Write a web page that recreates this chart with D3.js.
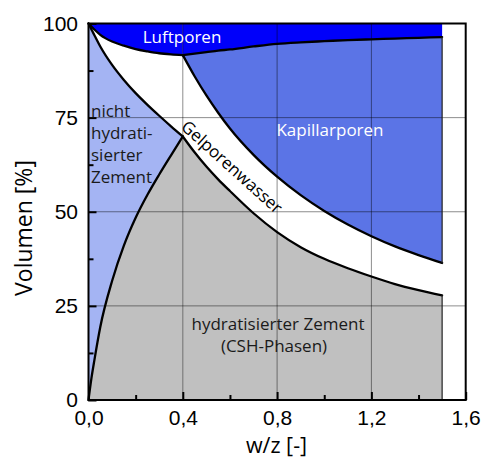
<!DOCTYPE html>
<html>
<head>
<meta charset="utf-8">
<script src="https://cdn.jsdelivr.net/npm/d3@7"></script>
<style>
  html, body { margin: 0; padding: 0; background: #fff; }
  svg { display: block; font-family: "Open Sans", "Noto Sans", sans-serif; }
</style>
</head>
<body>
<svg id="chart" width="482" height="459"></svg>
<script>
// Volume fractions of hardened cement paste (Powers model) versus w/z ratio.
// Left branch: w/z 0 .. 0.4 (incomplete hydration)
const wLeft          = [0, 0.0125, 0.025, 0.05, 0.1, 0.15, 0.2, 0.25, 0.3, 0.35, 0.4];
const airLeft        = [100, 99.2, 98.4, 97.0, 95.2, 94.1, 93.2, 92.6, 92.1, 91.8, 91.6];
const unhydratedTop  = [100, 98.4, 96.9, 93.9, 89.0, 85.0, 81.5, 78.4, 75.5, 72.7, 70.0];
const hydratedLeft   = [0, 5.8, 10.6, 19.4, 31.6, 41.0, 48.4, 54.5, 59.9, 65.0, 70.0];

// Right branch: w/z 0.4 .. 1.5 (complete hydration)
const wRight          = [0.4, 0.45, 0.5, 0.55, 0.6, 0.7, 0.8, 0.9, 1.0, 1.1, 1.2, 1.3, 1.4, 1.5];
const airRight        = [91.6, 92.0, 92.4, 92.8, 93.1, 93.9, 94.6, 95.0, 95.3, 95.6, 95.8, 96.0, 96.2, 96.4];
const capillaryBottom = [91.6, 86.0, 80.9, 76.3, 72.1, 65.1, 59.3, 54.4, 50.2, 46.6, 43.5, 40.8, 38.5, 36.4];
const hydratedTop     = [70.0, 65.8, 62.0, 58.6, 55.5, 49.6, 44.6, 40.6, 37.5, 35.0, 32.8, 30.8, 29.2, 27.8];

// Axis ticks
const xMajor = [0, 0.4, 0.8, 1.2, 1.6];
const xMinor = [0.2, 0.6, 1.0, 1.4];
const yMajor = [0, 25, 50, 75, 100];
const yMinor = [12.5, 37.5, 62.5, 87.5];

const svg = d3.select("#chart");
const x = d3.scaleLinear().domain([0, 1.6]).range([88.5, 465.7]);
const y = d3.scaleLinear().domain([0, 100]).range([400, 23.5]);

const left = wLeft.map((w, i) => ({ w, air: airLeft[i], top: unhydratedTop[i], hyd: hydratedLeft[i] }));
const right = wRight.map((w, i) => ({ w, air: airRight[i], cap: capillaryBottom[i], hyd: hydratedTop[i] }));

const curve = d3.curveMonotoneX;
const band = (lo, hi) => d3.area().curve(curve).x(d => x(d.w)).y0(lo).y1(hi);

const fills = svg.append("g");
// air voids
fills.append("path").datum(left).attr("fill", "#0000fa")
  .attr("d", band(() => y(100), d => y(d.air)));
fills.append("path").datum(right).attr("fill", "#0000fa")
  .attr("d", band(() => y(100), d => y(d.air)));
// capillary pores
fills.append("path").datum(right).attr("fill", "#5b74e6")
  .attr("d", band(d => y(d.cap), d => y(d.air)));
// unhydrated cement
fills.append("path").datum(left).attr("fill", "#a4b4f3")
  .attr("d", band(d => y(d.hyd), d => y(d.top)));
// hydrated cement
fills.append("path").datum(left).attr("fill", "#c0c0c0")
  .attr("d", band(() => y(0), d => y(d.hyd)));
fills.append("path").datum(right).attr("fill", "#c0c0c0")
  .attr("d", band(() => y(0), d => y(d.hyd)));

// grid at major ticks
const grid = svg.append("g").attr("stroke", "#000").attr("stroke-opacity", 0.45).attr("stroke-width", 1);
grid.selectAll("line.vx").data(xMajor.slice(1, -1)).join("line")
  .attr("x1", d => x(d)).attr("x2", d => x(d)).attr("y1", y(0)).attr("y2", y(100));
grid.selectAll("line.hy").data(yMajor.slice(1, -1)).join("line")
  .attr("x1", x(0)).attr("x2", x(1.6)).attr("y1", d => y(d)).attr("y2", d => y(d));

// boundary curves
const line = (key) => d3.line().curve(curve).x(d => x(d.w)).y(d => y(d[key]));
const outlines = svg.append("g").attr("fill", "none").attr("stroke", "#000")
  .attr("stroke-width", 2.3).attr("stroke-linejoin", "round").attr("stroke-linecap", "round");
outlines.append("path").datum(left).attr("d", line("air"));
outlines.append("path").datum(right).attr("d", line("air"));
outlines.append("path").datum(left).attr("d", line("top"));
outlines.append("path").datum(left).attr("d", line("hyd"));
outlines.append("path").datum(right).attr("d", line("cap"));
outlines.append("path").datum(right).attr("d", line("hyd"));

// closing edges at w/z = 1.5
const last = right[right.length - 1];
const edges = svg.append("g").attr("stroke", "#222").attr("stroke-width", 1.2);
[[last.cap, last.air], [0, last.hyd]].forEach(([a, b]) => {
  edges.append("line").attr("x1", x(last.w)).attr("x2", x(last.w)).attr("y1", y(a)).attr("y2", y(b));
});

// axes with inward ticks
const fmt = d => d.toFixed(1).replace(".", ",");
const xAxis = svg.append("g").attr("transform", `translate(0,${y(0)})`)
  .call(d3.axisBottom(x).tickValues(xMajor).tickFormat(fmt).tickSizeInner(-8).tickSizeOuter(0).tickPadding(10));
svg.append("g").attr("transform", `translate(0,${y(0)})`)
  .call(d3.axisBottom(x).tickValues(xMinor).tickFormat("").tickSizeInner(-5).tickSizeOuter(0))
  .call(g => g.select(".domain").remove());
const yAxis = svg.append("g").attr("transform", `translate(${x(0)},0)`)
  .call(d3.axisLeft(y).tickValues(yMajor).tickSizeInner(-8).tickSizeOuter(0).tickPadding(10.5));
svg.append("g").attr("transform", `translate(${x(0)},0)`)
  .call(d3.axisLeft(y).tickValues(yMinor).tickFormat("").tickSizeInner(-5).tickSizeOuter(0))
  .call(g => g.select(".domain").remove());

svg.selectAll(".tick line").attr("stroke", "#000").attr("stroke-width", 2);
svg.selectAll(".domain").remove();
xAxis.selectAll("text").attr("font-size", 21).attr("fill", "#000").attr("font-family", null);
yAxis.selectAll("text").attr("font-size", 21).attr("fill", "#000").attr("font-family", null);

// plot frame
svg.append("rect").attr("x", x(0)).attr("y", y(100))
  .attr("width", x(1.6) - x(0)).attr("height", y(0) - y(100))
  .attr("fill", "none").attr("stroke", "#000").attr("stroke-width", 2);

// axis titles
svg.append("text").attr("x", 276.5).attr("y", 453).attr("text-anchor", "middle")
  .attr("font-size", 21.5).text("w/z [-]");
svg.append("text").attr("transform", "translate(32,228) rotate(-90)").attr("text-anchor", "middle")
  .attr("font-size", 23).text("Volumen [%]");

// region labels
const labels = svg.append("g").attr("font-size", 17);
labels.append("text").attr("x", 182).attr("y", 43).attr("text-anchor", "middle")
  .attr("fill", "#fff").text("Luftporen");
labels.append("text").attr("x", 330).attr("y", 136).attr("text-anchor", "middle")
  .attr("fill", "#fff").text("Kapillarporen");
const unhydrated = labels.append("text").attr("x", 91).attr("y", 117).attr("fill", "#1a1a1a");
["nicht", "hydrati-", "sierter", "Zement"].forEach((t, i) => {
  unhydrated.append("tspan").attr("x", 91).attr("dy", i === 0 ? 0 : 22).text(t);
});
labels.append("text").attr("transform", "translate(232,167) rotate(42)")
  .attr("text-anchor", "middle").attr("dy", "0.35em").attr("fill", "#000").text("Gelporenwasser");
labels.append("text").attr("x", 278).attr("y", 330).attr("text-anchor", "middle")
  .attr("fill", "#1a1a1a").text("hydratisierter Zement");
labels.append("text").attr("x", 274).attr("y", 352).attr("text-anchor", "middle")
  .attr("fill", "#1a1a1a").text("(CSH-Phasen)");
</script>
</body>
</html>
